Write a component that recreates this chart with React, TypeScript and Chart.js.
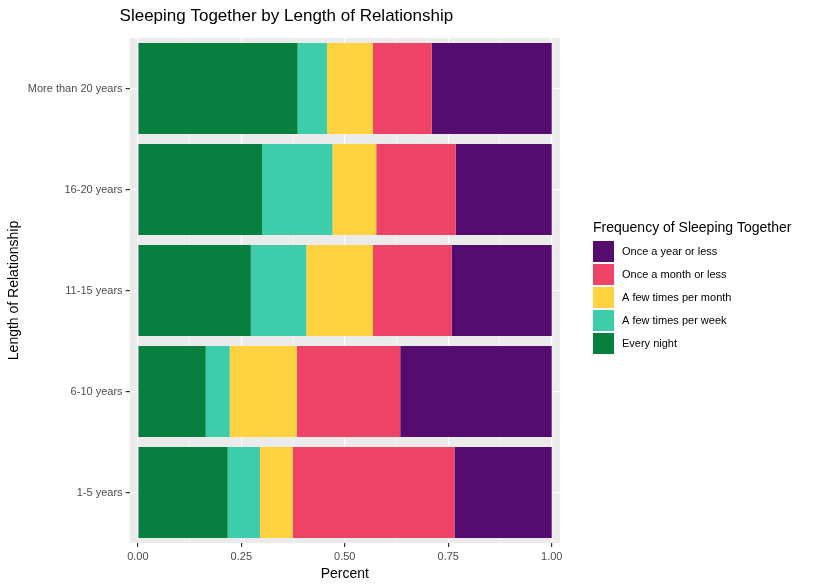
import React, { useEffect, useRef } from "react";
import { Chart, registerables } from "chart.js";
Chart.register(...registerables);

const categories = ["More than 20 years", "16-20 years", "11-15 years", "6-10 years", "1-5 years"];
const seriesNames = ["Every night", "A few times per week", "A few times per month", "Once a month or less", "Once a year or less"];
const colors = ["#07803F", "#3DCDAB", "#FFD23F", "#EE4266", "#540D6E"];
const everyNight = [0.386, 0.300, 0.273, 0.164, 0.217];
const fewWeek = [0.071, 0.170, 0.134, 0.058, 0.078];
const fewMonth = [0.111, 0.106, 0.161, 0.162, 0.079];
const onceMonth = [0.142, 0.192, 0.190, 0.250, 0.391];
const onceYear = [0.290, 0.232, 0.242, 0.366, 0.235];
const xTicks = [0, 0.25, 0.5, 0.75, 1];
const FONT = "Liberation Sans, Arial, sans-serif";

const bgPlugin = {
  id: "panelbg",
  beforeDraw(chart: any) {
    const { ctx, chartArea: a } = chart;
    ctx.save();
    ctx.fillStyle = "#fff";
    ctx.fillRect(0, 0, chart.width, chart.height);
    ctx.fillStyle = "#EBEBEB";
    ctx.fillRect(a.left, a.top, a.right - a.left, a.bottom - a.top);
    ctx.restore();
  },
  afterDraw(chart: any) {
    const { ctx, chartArea: a } = chart;
    ctx.save();
    ctx.fillStyle = "#000";
    ctx.textBaseline = "middle";
    ctx.textAlign = "left";
    ctx.font = `17px ${FONT}`;
    ctx.fillText("Sleeping Together by Length of Relationship", a.left - 10, 16);
    // legend
    const lx = a.right + 33;
    ctx.font = `14px ${FONT}`;
    ctx.fillText("Frequency of Sleeping Together", lx, 228);
    ctx.font = `11px ${FONT}`;
    const ds = chart.data.datasets;
    for (let k = 0; k < ds.length; k++) {
      const d = ds[ds.length - 1 - k];
      const y = 241 + k * 23;
      ctx.fillStyle = d.backgroundColor;
      ctx.fillRect(lx, y, 21, 21);
      ctx.fillStyle = "#000";
      ctx.fillText(d.label, lx + 29, y + 11);
    }
    ctx.restore();
  },
};

export default function App() {
  const ref = useRef<HTMLCanvasElement>(null);
  useEffect(() => {
    const values = [everyNight, fewWeek, fewMonth, onceMonth, onceYear];
    const chart = new Chart(ref.current!, {
      type: "bar",
      data: {
        labels: categories,
        datasets: seriesNames.map((n, i) => ({
          label: n,
          data: values[i],
          backgroundColor: colors[i],
          borderWidth: 0,
          categoryPercentage: 0.9,
          barPercentage: 1,
        })),
      },
      plugins: [bgPlugin],
      options: {
        indexAxis: "y",
        animation: false,
        responsive: false,
        layout: { padding: { left: 4, right: 255, top: 38, bottom: 2 } },
        plugins: {
          title: { display: false },
          legend: { display: false },
          tooltip: { enabled: false },
        },
        scales: {
          x: {
            stacked: true,
            min: -0.02,
            max: 1.02,
            afterBuildTicks(axis: any) {
              const t: any[] = [];
              for (let i = 0; i <= 8; i++) t.push({ value: i * 0.125 });
              axis.ticks = t;
            },
            ticks: {
              color: "#4D4D4D",
              font: { family: FONT, size: 11 },
              autoSkip: false,
              maxRotation: 0,
              callback: (v: any) => (xTicks.some((t) => Math.abs(t - v) < 1e-6) ? Number(v).toFixed(2) : ""),
            },
            grid: {
              color: "#fff",
              lineWidth: (c: any) => (c.tick && xTicks.some((t) => Math.abs(t - c.tick.value) < 1e-6) ? 1.2 : 0.5),
              tickColor: (c: any) => (c.tick && xTicks.some((t) => Math.abs(t - c.tick.value) < 1e-6) ? "#333" : "rgba(0,0,0,0)"),
              tickLength: 4,
            },
            border: { display: false },
            title: { display: true, text: "Percent", color: "#000", font: { family: FONT, size: 14 }, padding: 0 },
          },
          y: {
            stacked: true,
            offset: true,
            ticks: { color: "#4D4D4D", font: { family: FONT, size: 11 } },
            grid: { color: "#fff", lineWidth: 1.2, offset: false, tickColor: "#333", tickLength: 4 },
            border: { display: false },
            title: { display: true, text: "Length of Relationship", color: "#000", font: { family: FONT, size: 14 }, padding: 2 },
          },
        },
      } as any,
    });
    return () => chart.destroy();
  }, []);
  return (
    <div style={{ position: "fixed", left: 0, top: 0 }}>
      <canvas ref={ref} width={815} height={585} />
    </div>
  );
}
